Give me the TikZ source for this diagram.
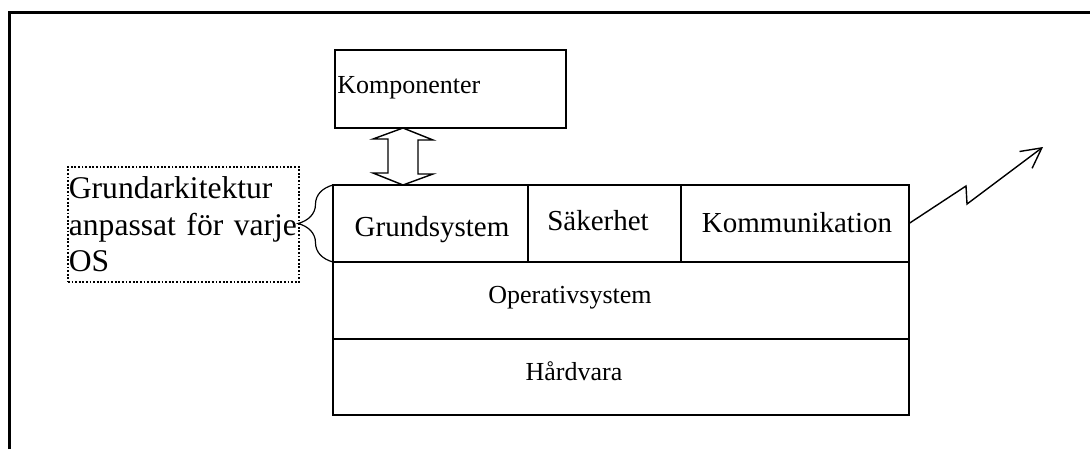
\documentclass[tikz,border=0pt]{standalone}
\usepackage{fontspec}
\setmainfont{Liberation Serif}
\usetikzlibrary{positioning,calc,decorations.pathreplacing,arrows.meta}

\begin{document}
\begin{tikzpicture}[x=0.5pt, y=-0.5pt,
  block/.style={draw, line width=1.2pt, inner sep=0pt, outer sep=0pt},
  cell/.style={draw, line width=0.7pt, inner sep=0pt, outer sep=0pt, minimum height=38.5pt},
  txt/.style={inner sep=0pt, anchor=base, font=\fontsize{14.5}{17}\selectfont}]

  \useasboundingbox (0,0) rectangle (1090,449);

  % Frame
  \draw[line width=1.5pt] (9,449) -- (9,13) -- (1090,13);

  % Components
  \node[block, anchor=north west, minimum width=115.5pt, minimum height=39pt] (komp) at (335,50) {};
  \node[txt, anchor=base west, font=\fontsize{13}{15}\selectfont] (tkomp) at (337,93) {Komponenter};

  % First row
  \node[cell, anchor=north west, minimum width=97.5pt] (grund) at (333,185) {};
  \node[cell, right=0pt of grund, minimum width=76.5pt] (sak) {};
  \node[cell, right=0pt of sak, minimum width=114pt] (komm) {};

  % Second and third row
  \node[cell, below=0pt of grund.south west, anchor=north west, minimum width=288pt] (os) {};
  \node[cell, below=0pt of os, minimum width=288pt, minimum height=38pt] (hw) {};
  \draw[line width=1.2pt] (grund.north west) rectangle (hw.south east);

  % Labels
  \node[txt] (tgrund) at (432,236) {Grundsystem};
  \node[txt] (tsak) at (598,230) {Säkerhet};
  \node[txt] (tkomm) at (797,232) {Kommunikation};
  \node[txt, font=\fontsize{13}{15}\selectfont] (tos) at (570,303) {Operativsystem};
  \node[txt, font=\fontsize{13}{15}\selectfont] (thw) at (574,380) {Hårdvara};

  % Dotted box and brace
  \node[draw, dash pattern=on 0.9pt off 0.9pt, line width=0.9pt, anchor=north west,
    minimum width=115.5pt, minimum height=57.5pt, text width=114.5pt, inner xsep=0.5pt,
    inner ysep=0pt, align=left, font=\fontsize{15.8}{18.25}\selectfont] (arkitektur) at (67,166)
    {Grundarkitektur\\anpassat för varje\\OS};
  \draw[decorate, decoration={brace, amplitude=17.5pt}, line width=0.6pt] (grund.south west) -- (grund.north west);

  % Double arrow
  \coordinate (ktop) at ($(komp.south west)+(68,0)$);
  \coordinate (kbot) at (ktop |- grund.north);
  \draw[line width=0.7pt, fill=white] (ktop) -- ++(-30,11) -- ++(15,0) -- ++(0,34) -- ++(-15,0)
    -- (kbot) -- ++(30,-11) -- ++(-15,0) -- ++(0,-34) -- ++(15,0) -- cycle;

  % Signal
  \coordinate (signal) at (1043,147);
  \draw[line width=0.7pt, -{Straight Barb[length=10pt, width=10.5pt]}] (komm.east) -- (966,186) -- (967,204) -- (signal);

\end{tikzpicture}
\end{document}
